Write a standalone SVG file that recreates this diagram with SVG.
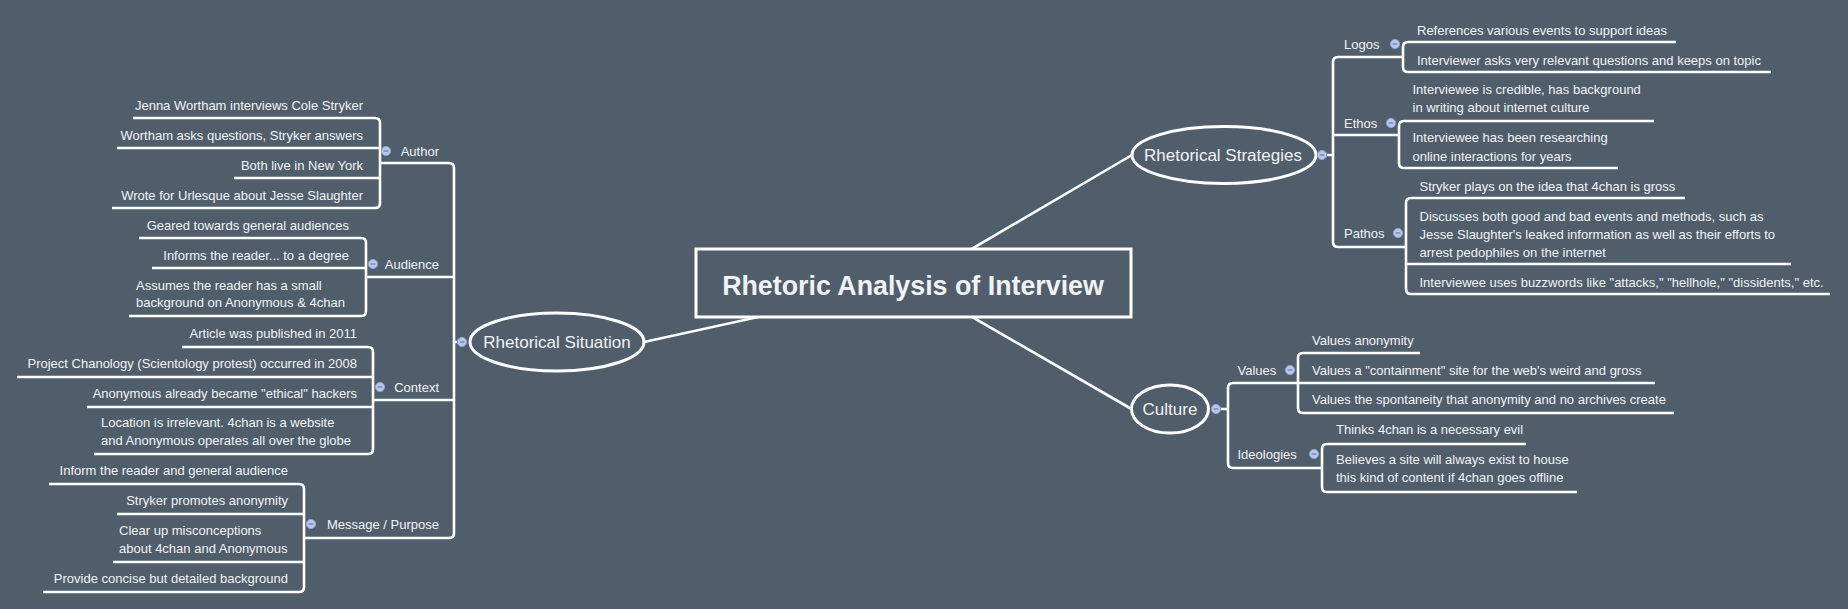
<svg xmlns="http://www.w3.org/2000/svg" width="1848" height="609" viewBox="0 0 1848 609">
<style>
.bg{fill:#505e6b}
.ln{fill:none;stroke:#ffffff;stroke-width:2.6;stroke-linecap:butt;stroke-linejoin:round}
.shape{fill:#505e6b;stroke:#ffffff;stroke-width:3}
text{font-family:"Liberation Sans",Arial,sans-serif;fill:#f0f2f5}
.t{font-size:13px}
.e{text-anchor:end}
.m{text-anchor:middle}
.big{font-size:17px}
.title{font-size:26.8px;font-weight:bold}
.dot circle{fill:#b7c6ea;stroke:#8ea2cf;stroke-width:1}
.dot line{stroke:#6f83b3;stroke-width:1.3}
</style>
<defs>
<g id="dot" class="dot"><circle cx="0" cy="0" r="4.6"/><line x1="-2.4" y1="0" x2="2.4" y2="0"/></g>
</defs>
<rect class="bg" x="0" y="0" width="1848" height="609"/>

<g id="connectors">
<line class="ln" x1="913.5" y1="283" x2="644" y2="342"/>
<line class="ln" x1="913.5" y1="283" x2="1132" y2="155"/>
<line class="ln" x1="913.5" y1="283" x2="1131.5" y2="409"/>
<!-- left main -->
<path class="ln" d="M380,163 H449 Q454,163 454,168 V533 Q454,538 449,538 H304 M366,277 H454 M373,400 H454 M454,342 H460"/>
<!-- author children -->
<path class="ln" d="M133,118 H375 Q380,118 380,123 V203 Q380,208 375,208 H112 M117,148 H380 M234,178 H380"/>
<!-- audience children -->
<path class="ln" d="M139,238 H361 Q366,238 366,243 V311 Q366,316 361,316 H129 M152,268 H366"/>
<!-- context children -->
<path class="ln" d="M182,347 H368 Q373,347 373,352 V449 Q373,454 368,454 H94 M17,377 H373 M87,407 H373"/>
<!-- message children -->
<path class="ln" d="M49,484 H299 Q304,484 304,489 V587 Q304,592 299,592 H43 M117,514 H304 M113,562 H304"/>
<!-- right strategies -->
<path class="ln" d="M1322,155 H1333 M1403,57 H1338 Q1333,57 1333,62 V242 Q1333,247 1338,247 H1406 M1333,135 H1399"/>
<path class="ln" d="M1676,42 H1408 Q1403,42 1403,47 V67 Q1403,72 1408,72 H1771"/>
<path class="ln" d="M1654,121 H1404 Q1399,121 1399,126 V163 Q1399,168 1404,168 H1618"/>
<path class="ln" d="M1685,198 H1411 Q1406,198 1406,203 V289 Q1406,294 1411,294 H1830 M1406,264 H1791"/>
<!-- culture -->
<path class="ln" d="M1216,409 H1228 M1298,383 H1233 Q1228,383 1228,388 V463 Q1228,468 1233,468 H1322"/>
<path class="ln" d="M1420,353 H1303 Q1298,353 1298,358 V408 Q1298,413 1303,413 H1674 M1298,383 H1655"/>
<path class="ln" d="M1526,444 H1327 Q1322,444 1322,449 V487 Q1322,492 1327,492 H1577"/>
</g>

<g id="title">
<rect class="shape" x="696" y="249" width="435" height="68"/>
<text class="title m" x="913" y="294.5">Rhetoric Analysis of Interview</text>
</g>

<g id="rhetorical-situation">
<ellipse class="shape" cx="557" cy="342" rx="87" ry="29"/>
<text class="big m" x="557" y="348">Rhetorical Situation</text>
<use href="#dot" x="462" y="342"/>
</g>

<g id="author">
<text class="t e" x="439" y="155.5">Author</text>
<use href="#dot" x="386" y="151"/>
</g>
<g id="author-1"><text class="t e" x="363" y="109.5">Jenna Wortham interviews Cole Stryker</text></g>
<g id="author-2"><text class="t e" x="363" y="139.5">Wortham asks questions, Stryker answers</text></g>
<g id="author-3"><text class="t e" x="363" y="169.5">Both live in New York</text></g>
<g id="author-4"><text class="t e" x="363" y="199.5">Wrote for Urlesque about Jesse Slaughter</text></g>

<g id="audience">
<text class="t e" x="439" y="268.5">Audience</text>
<use href="#dot" x="373" y="264"/>
</g>
<g id="audience-1"><text class="t e" x="349" y="229.5">Geared towards general audiences</text></g>
<g id="audience-2"><text class="t e" x="349" y="259.5">Informs the reader... to a degree</text></g>
<g id="audience-3"><text class="t" x="136" y="290">Assumes the reader has a small</text><text class="t" x="136" y="307">background on Anonymous &amp; 4chan</text></g>

<g id="context">
<text class="t e" x="439" y="391.5">Context</text>
<use href="#dot" x="380" y="387"/>
</g>
<g id="context-1"><text class="t e" x="357" y="338">Article was published in 2011</text></g>
<g id="context-2"><text class="t e" x="357" y="368">Project Chanology (Scientology protest) occurred in 2008</text></g>
<g id="context-3"><text class="t e" x="357" y="398">Anonymous already became "ethical" hackers</text></g>
<g id="context-4"><text class="t" x="101" y="427">Location is irrelevant. 4chan is a website</text><text class="t" x="101" y="445">and Anonymous operates all over the globe</text></g>

<g id="message">
<text class="t e" x="439" y="528.5">Message / Purpose</text>
<use href="#dot" x="311" y="524"/>
</g>
<g id="message-1"><text class="t e" x="288" y="475">Inform the reader and general audience</text></g>
<g id="message-2"><text class="t e" x="288" y="505">Stryker promotes anonymity</text></g>
<g id="message-3"><text class="t" x="119" y="535">Clear up misconceptions</text><text class="t" x="119" y="553">about 4chan and Anonymous</text></g>
<g id="message-4"><text class="t e" x="288" y="583">Provide concise but detailed background</text></g>

<g id="rhetorical-strategies">
<ellipse class="shape" cx="1224" cy="155" rx="92" ry="28.5"/>
<text class="big m" x="1223" y="161">Rhetorical Strategies</text>
<use href="#dot" x="1322" y="155"/>
</g>

<g id="logos">
<text class="t" x="1344" y="48.5">Logos</text>
<use href="#dot" x="1395" y="44"/>
</g>
<g id="logos-1"><text class="t" x="1417" y="34.5">References various events to support ideas</text></g>
<g id="logos-2"><text class="t" x="1417" y="64.5">Interviewer asks very relevant questions and keeps on topic</text></g>

<g id="ethos">
<text class="t" x="1344" y="127.5">Ethos</text>
<use href="#dot" x="1391" y="123"/>
</g>
<g id="ethos-1"><text class="t" x="1412.5" y="93.5">Interviewee is credible, has background</text><text class="t" x="1412.5" y="111.5">in writing about internet culture</text></g>
<g id="ethos-2"><text class="t" x="1412.5" y="141.5">Interviewee has been researching</text><text class="t" x="1412.5" y="160.5">online interactions for years</text></g>

<g id="pathos">
<text class="t" x="1344" y="237.5">Pathos</text>
<use href="#dot" x="1398" y="233"/>
</g>
<g id="pathos-1"><text class="t" x="1419.5" y="190.5">Stryker plays on the idea that 4chan is gross</text></g>
<g id="pathos-2"><text class="t" x="1419.5" y="220.5">Discusses both good and bad events and methods, such as</text><text class="t" x="1419.5" y="238.5">Jesse Slaughter's leaked information as well as their efforts to</text><text class="t" x="1419.5" y="256.5">arrest pedophiles on the internet</text></g>
<g id="pathos-3"><text class="t" x="1419.5" y="286.5">Interviewee uses buzzwords like "attacks," "hellhole," "dissidents," etc.</text></g>

<g id="culture">
<ellipse class="shape" cx="1170" cy="409" rx="38.5" ry="24"/>
<text class="big m" x="1170" y="415">Culture</text>
<use href="#dot" x="1216" y="409"/>
</g>

<g id="values">
<text class="t" x="1237.5" y="374.5">Values</text>
<use href="#dot" x="1290" y="370"/>
</g>
<g id="values-1"><text class="t" x="1312" y="344.5">Values anonymity</text></g>
<g id="values-2"><text class="t" x="1312" y="374.5">Values a "containment" site for the web's weird and gross</text></g>
<g id="values-3"><text class="t" x="1312" y="403.5">Values the spontaneity that anonymity and no archives create</text></g>

<g id="ideologies">
<text class="t" x="1237.5" y="458.5">Ideologies</text>
<use href="#dot" x="1314" y="454"/>
</g>
<g id="ideologies-1"><text class="t" x="1336" y="433.5">Thinks 4chan is a necessary evil</text></g>
<g id="ideologies-2"><text class="t" x="1336" y="463.5">Believes a site will always exist to house</text><text class="t" x="1336" y="481.5">this kind of content if 4chan goes offline</text></g>
</svg>
